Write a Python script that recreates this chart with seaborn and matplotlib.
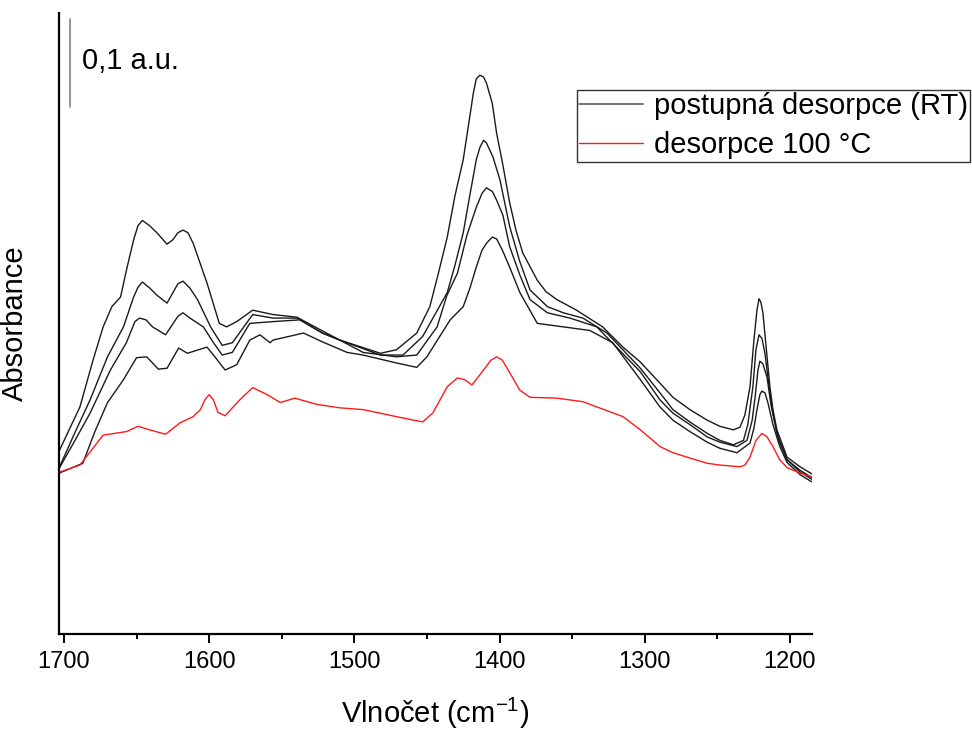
import numpy as np
import pandas as pd
import matplotlib
matplotlib.use("Agg")
import matplotlib.pyplot as plt
from matplotlib.lines import Line2D
import seaborn as sns

# ---------------- data ----------------
wn_rt1 = [1703, 1689, 1680, 1673, 1667, 1661, 1656.6, 1652, 1649, 1646, 1641, 1636, 1629, 1625, 1621.5,
          1618, 1614.6, 1611, 1601.5, 1593, 1588, 1581, 1570, 1556, 1539.5, 1526, 1510, 1482, 1471, 1457,
          1448, 1442.4, 1436, 1430.7, 1425, 1418, 1416, 1413.5, 1411, 1409, 1405, 1402, 1397.7, 1393,
          1388.7, 1384, 1374, 1368, 1360.5, 1347, 1329, 1315, 1303, 1289.5, 1280.6, 1268.9, 1257, 1248.2,
          1239, 1234.4, 1231, 1227.5, 1224.8, 1222.7, 1221.3, 1220, 1218.6, 1216.5, 1213.8, 1211.7, 1209,
          1202, 1193, 1184]
a_rt1 = [0.209, 0.258, 0.311, 0.349, 0.372, 0.383, 0.416, 0.448, 0.464, 0.470, 0.464, 0.456, 0.443, 0.448, 0.456,
         0.459, 0.456, 0.444, 0.399, 0.353, 0.349, 0.355, 0.368, 0.363, 0.360, 0.348, 0.334, 0.319, 0.323, 0.342,
         0.372, 0.408, 0.451, 0.498, 0.539, 0.615, 0.631, 0.635, 0.633, 0.626, 0.603, 0.569, 0.533, 0.490,
         0.459, 0.433, 0.402, 0.389, 0.380, 0.368, 0.349, 0.326, 0.309, 0.285, 0.269, 0.255, 0.243, 0.236,
         0.232, 0.235, 0.249, 0.281, 0.334, 0.368, 0.381, 0.377, 0.365, 0.328, 0.281, 0.255, 0.232,
         0.201, 0.190, 0.181]

wn_rt2 = [1703, 1692.4, 1682, 1670, 1659, 1652, 1649, 1646, 1640.8, 1636, 1629, 1621.5, 1618, 1613.2, 1608,
          1599, 1591, 1584, 1570, 1556, 1539.5, 1522, 1510, 1482, 1466.5, 1453, 1436, 1430.7, 1425, 1420.4,
          1416, 1413.5, 1411, 1409, 1404.5, 1399.7, 1393, 1386, 1379, 1367, 1356, 1342.6, 1326, 1303,
          1289.5, 1280.6, 1268.9, 1257, 1248.2, 1239, 1232, 1229, 1225.5, 1223.4, 1221.3, 1219.3, 1217.2,
          1214.5, 1211.7, 1207.6, 1202, 1193, 1184]
a_rt2 = [0.190, 0.229, 0.266, 0.315, 0.349, 0.383, 0.394, 0.400, 0.393, 0.385, 0.376, 0.398, 0.401, 0.393, 0.380,
         0.349, 0.328, 0.331, 0.363, 0.359, 0.359, 0.342, 0.334, 0.317, 0.317, 0.338, 0.388, 0.419, 0.456, 0.499,
         0.539, 0.553, 0.561, 0.558, 0.542, 0.516, 0.463, 0.423, 0.391, 0.372, 0.365, 0.359, 0.342, 0.302,
         0.274, 0.255, 0.241, 0.228, 0.220, 0.215, 0.220, 0.238, 0.281, 0.323, 0.340, 0.336, 0.319,
         0.283, 0.251, 0.220, 0.198, 0.186, 0.177]

wn_rt3 = [1703, 1692.4, 1682, 1668, 1657, 1651.1, 1648, 1643.5, 1639, 1630, 1621.5, 1618, 1613.2, 1604, 1597,
          1591, 1584, 1572, 1556, 1537.5, 1522, 1510, 1494, 1471, 1457, 1443, 1436.2, 1429, 1422.5, 1416,
          1412, 1409, 1405, 1402, 1397.7, 1393, 1386, 1379, 1367, 1351.5, 1333, 1303, 1289.5, 1280.6,
          1268.9, 1257, 1248.2, 1236.5, 1229.6, 1226, 1224, 1222, 1220.7, 1218.6, 1215.8, 1213, 1209,
          1202, 1193, 1184]
a_rt3 = [0.189, 0.220, 0.251, 0.300, 0.331, 0.355, 0.359, 0.357, 0.349, 0.340, 0.361, 0.365, 0.359, 0.349, 0.331,
         0.317, 0.320, 0.353, 0.355, 0.357, 0.342, 0.334, 0.320, 0.315, 0.317, 0.349, 0.385, 0.410, 0.453, 0.485,
         0.501, 0.507, 0.503, 0.493, 0.476, 0.440, 0.408, 0.380, 0.365, 0.359, 0.349, 0.298, 0.266, 0.251,
         0.238, 0.224, 0.218, 0.213, 0.220, 0.243, 0.269, 0.300, 0.310, 0.307, 0.292, 0.260, 0.228,
         0.198, 0.184, 0.175]

wn_rt4 = [1703, 1687, 1678.7, 1670, 1659, 1650, 1643, 1635, 1629, 1621, 1615, 1601.5, 1597, 1589, 1581,
          1572, 1565, 1558, 1556, 1535, 1522, 1505, 1494, 1471, 1457, 1450, 1434, 1425, 1420.4, 1416,
          1412.1, 1409, 1405, 1402, 1398, 1392.8, 1386, 1374, 1356, 1338, 1322, 1303, 1289.5, 1280.6,
          1268.9, 1257, 1248.2, 1236.5, 1227.5, 1224.8, 1222.7, 1220.7, 1219.3, 1217.2, 1215.2, 1211.7,
          1207, 1202, 1193, 1184]
a_rt4 = [0.183, 0.194, 0.230, 0.263, 0.289, 0.314, 0.315, 0.301, 0.302, 0.325, 0.319, 0.326, 0.317, 0.300, 0.306,
         0.334, 0.340, 0.331, 0.334, 0.342, 0.332, 0.320, 0.317, 0.308, 0.303, 0.315, 0.357, 0.372, 0.393, 0.417,
         0.436, 0.444, 0.451, 0.449, 0.436, 0.416, 0.388, 0.353, 0.349, 0.345, 0.331, 0.289, 0.258, 0.243,
         0.230, 0.218, 0.211, 0.206, 0.217, 0.234, 0.255, 0.272, 0.276, 0.274, 0.263, 0.238,
         0.213, 0.195, 0.181, 0.172]

wn_100 = [1703, 1689, 1673, 1657, 1649, 1641, 1630, 1620, 1611, 1606, 1603, 1600, 1597, 1594, 1589,
          1584, 1579, 1570, 1560, 1551, 1541, 1526, 1510, 1494, 1471, 1453, 1446, 1436, 1429, 1424,
          1419, 1411, 1406, 1402, 1398, 1393, 1386, 1379, 1360.5, 1342.6, 1315, 1303, 1289.5, 1280.6,
          1268.9, 1257, 1248.2, 1234.4, 1231, 1227.5, 1223.4, 1219.3, 1215.8, 1211.7, 1207, 1202, 1193, 1184]
a_100 = [0.184, 0.192, 0.226, 0.230, 0.236, 0.232, 0.227, 0.240, 0.247, 0.255, 0.266, 0.272, 0.266, 0.252, 0.248,
         0.257, 0.266, 0.280, 0.272, 0.263, 0.268, 0.261, 0.257, 0.255, 0.247, 0.241, 0.251, 0.281, 0.291, 0.289,
         0.283, 0.300, 0.311, 0.315, 0.311, 0.297, 0.277, 0.269, 0.268, 0.264, 0.247, 0.232, 0.213, 0.206,
         0.200, 0.194, 0.192, 0.190, 0.192, 0.201, 0.220, 0.228, 0.224, 0.213, 0.198, 0.189, 0.183, 0.178]

series_labels = ["postupná desorpce (RT)", "desorpce 100 °C"]
x_ticks = [1700, 1600, 1500, 1400, 1300, 1200]
scale_bar_len = 0.1
scale_bar_text = "0,1 a.u."

# ---------------- build long table ----------------
frames = []
for name, wn, a, ser in [("RT1", wn_rt1, a_rt1, series_labels[0]),
                         ("RT2", wn_rt2, a_rt2, series_labels[0]),
                         ("RT3", wn_rt3, a_rt3, series_labels[0]),
                         ("RT4", wn_rt4, a_rt4, series_labels[0]),
                         ("T100", wn_100, a_100, series_labels[1])]:
    frames.append(pd.DataFrame({"wn": wn, "A": a, "spectrum": name, "series": ser}))
df = pd.concat(frames, ignore_index=True)

# ---------------- style ----------------
sns.set_style("ticks")
plt.rcParams["font.family"] = ["Liberation Sans", "DejaVu Sans"]
plt.rcParams["mathtext.fontset"] = "custom"
plt.rcParams["mathtext.rm"] = "Liberation Sans"
plt.rcParams["mathtext.it"] = "Liberation Sans"
plt.rcParams["text.color"] = "black"
plt.rcParams["axes.labelcolor"] = "black"
plt.rcParams["xtick.color"] = "black"
plt.rcParams["lines.solid_joinstyle"] = "round"

fig = plt.figure(figsize=(9.72, 7.31), dpi=100)
ax = fig.add_axes([59 / 972, 1 - 634 / 731, (812 - 59) / 972, (634 - 13) / 731])

palette = {series_labels[0]: "#1a1a1a", series_labels[1]: "#ff1a1a"}
sns.lineplot(data=df, x="wn", y="A", hue="series", units="spectrum", estimator=None,
             sort=True, palette=palette, linewidth=1.0, legend=False, ax=ax)

ax.set_xlim(1703.4, 1184.8)
ax.set_ylim(0, 0.7057)
ax.set_xticks(x_ticks)
ax.set_xticks(np.arange(1650, 1184, -100), minor=True)
ax.set_yticks([])
ax.tick_params(axis="x", which="major", direction="out", length=6.5, width=1.4,
               labelsize=17, pad=6, colors="black")
ax.tick_params(axis="x", which="minor", direction="out", length=3.6, width=1.4)
for side in ["top", "right"]:
    ax.spines[side].set_visible(False)
for side in ["left", "bottom"]:
    ax.spines[side].set_linewidth(1.6)
    ax.spines[side].set_color("black")

ax.set_xlabel("Vlnočet (cm$^{-1}$)", fontsize=21, labelpad=16)
ax.set_ylabel("Absorbance", fontsize=21, labelpad=22)

# scale bar
sb_x = 1695.9
sb_top = 0.699
ax.plot([sb_x, sb_x], [sb_top - scale_bar_len, sb_top], color="#808080", linewidth=1.2)
ax.text(1687.6, 0.651, scale_bar_text, fontsize=21, va="center", ha="left", color="black")

# legend
handles = [Line2D([], [], color="#666666", linewidth=1.3),
           Line2D([], [], color="#ff1a1a", linewidth=1.0)]
leg = ax.legend(handles, series_labels, loc="upper right",
                bbox_to_anchor=(970 / 972, 1 - 90 / 731), bbox_transform=fig.transFigure,
                fontsize=21, frameon=True, fancybox=False, borderpad=0.08,
                handlelength=2.2, handletextpad=0.35, labelspacing=0.38, borderaxespad=0)
leg.get_frame().set_edgecolor("black")
leg.get_frame().set_linewidth(1.0)
for t in leg.get_texts():
    t.set_color("black")

fig.savefig("out.png", dpi=100)
